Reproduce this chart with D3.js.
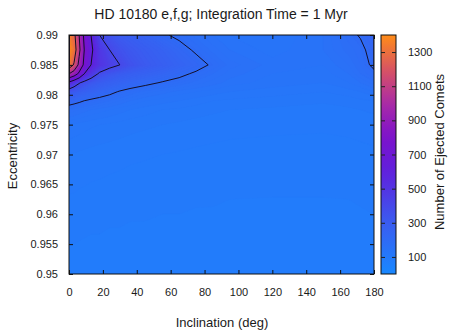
<!DOCTYPE html>
<html>
<head>
<meta charset="utf-8">
<script src="https://cdn.jsdelivr.net/npm/d3@7"></script>
<style>
  html, body { margin: 0; padding: 0; background: #ffffff; }
  svg { display: block; }
  text { font-family: "Liberation Sans", Arial, Helvetica, sans-serif; fill: #1a1a1a; }
</style>
</head>
<body>
<svg id="chart" width="456" height="330"></svg>
<script>
// ---------------- DATA ----------------
const title = "HD 10180 e,f,g; Integration Time = 1 Myr";
const xLabel = "Inclination (deg)";
const yLabel = "Eccentricity";
const cLabel = "Number of Ejected Comets";

// grid columns (inclination, deg)
const inclinations = [0, 3, 6, 9, 13, 18, 24, 30, 36, 45, 55, 65, 75, 85, 95, 120, 150, 165, 172, 180];
// grid rows (eccentricity), top to bottom
const eccentricities = [0.99, 0.9875, 0.985, 0.9835, 0.982, 0.9805, 0.979, 0.9775, 0.975, 0.97, 0.96, 0.95];

// number of ejected comets, one array per eccentricity row
const ejected_e09900 = [1350, 1250, 1000, 760, 600, 400, 340, 300, 280, 250, 210, 185, 165, 150, 140, 130, 150, 185, 205, 240];
const ejected_e09875 = [1400, 1300, 1040, 800, 630, 480, 400, 350, 320, 290, 260, 225, 190, 165, 150, 135, 150, 175, 185, 225];
const ejected_e09850 = [1330, 1180, 950, 760, 600, 500, 440, 400, 350, 310, 280, 250, 225, 190, 165, 145, 140, 160, 180, 210];
const ejected_e09835 = [1000, 900, 760, 600, 480, 380, 330, 300, 280, 260, 240, 215, 190, 170, 155, 140, 135, 150, 170, 190];
const ejected_e09820 = [560, 480, 410, 360, 320, 290, 270, 250, 235, 215, 195, 180, 165, 155, 145, 135, 130, 140, 150, 165];
const ejected_e09805 = [330, 300, 280, 265, 250, 235, 215, 195, 180, 165, 155, 145, 140, 135, 130, 125, 120, 125, 130, 140];
const ejected_e09790 = [230, 220, 210, 200, 190, 180, 170, 160, 150, 140, 135, 130, 125, 120, 118, 115, 112, 115, 118, 120];
const ejected_e09775 = [170, 165, 160, 155, 150, 145, 140, 135, 130, 125, 120, 118, 115, 112, 110, 108, 105, 108, 110, 112];
const ejected_e09750 = [130, 128, 126, 124, 122, 120, 118, 116, 114, 112, 110, 108, 106, 105, 104, 103, 102, 103, 104, 105];
const ejected_e09700 = [110, 109, 108, 107, 106, 105, 104, 103, 102, 101, 100, 99, 98, 97, 96, 95, 95, 96, 97, 98];
const ejected_e09600 = [95, 95, 94, 94, 93, 93, 92, 92, 91, 91, 90, 90, 89, 89, 88, 88, 88, 88, 89, 90];
const ejected_e09500 = [85, 85, 85, 84, 84, 84, 83, 83, 83, 82, 82, 82, 81, 81, 81, 80, 80, 80, 80, 80];

const contourLevels = [200, 400, 600, 800, 1000, 1200];
const xTicks = [0, 20, 40, 60, 80, 100, 120, 140, 160, 180];
const yTicks = [0.95, 0.955, 0.96, 0.965, 0.97, 0.975, 0.98, 0.985, 0.99];
const cTicks = [100, 300, 500, 700, 900, 1100, 1300];
const cDomain = [0, 1400];

// palette (value -> colour)
const paletteValues = [0, 300, 600, 800, 1000, 1200, 1400];
const paletteColors = ["#1888ff", "#3a5cf0", "#6020dc", "#7c12cc", "#aa2aa6", "#d85462", "#ff8c18"];

// ---------------- LAYOUT ----------------
const plot = { left: 69, right: 374, top: 35, bottom: 274 };
const cbar = { left: 381, right: 396 };

const rows = [ejected_e09900, ejected_e09875, ejected_e09850, ejected_e09835, ejected_e09820, ejected_e09805,
              ejected_e09790, ejected_e09775, ejected_e09750, ejected_e09700, ejected_e09600, ejected_e09500];
const nx = inclinations.length, ny = eccentricities.length;
const grid = [].concat(...rows);

const x = d3.scaleLinear().domain([0, 180]).range([plot.left, plot.right]);
const y = d3.scaleLinear().domain([0.95, 0.99]).range([plot.bottom, plot.top]);
const color = d3.scaleLinear().domain(paletteValues).range(paletteColors).interpolate(d3.interpolateRgb).clamp(true);

// grid-index space -> data space (cell centres at i + 0.5)
const gx = d3.scaleLinear().domain(inclinations.map((d, i) => i + 0.5)).range(inclinations).clamp(true);
const gy = d3.scaleLinear().domain(eccentricities.map((d, i) => i + 0.5)).range(eccentricities).clamp(true);

const proj = d3.geoTransform({
  point: function(px, py) { this.stream.point(x(gx(px)), y(gy(py))); }
});
const path = d3.geoPath(proj);

const svg = d3.select("#chart");
const defs = svg.append("defs");
defs.append("clipPath").attr("id", "plotclip")
  .append("rect").attr("x", plot.left).attr("y", plot.top)
  .attr("width", plot.right - plot.left).attr("height", plot.bottom - plot.top);

// ---------- filled map ----------
const fillStep = 10;
const fillThresholds = d3.range(cDomain[0], cDomain[1] + fillStep, fillStep);
const filled = d3.contours().size([nx, ny]).thresholds(fillThresholds)(grid);

const gMap = svg.append("g").attr("clip-path", "url(#plotclip)");
gMap.append("rect").attr("x", plot.left).attr("y", plot.top)
  .attr("width", plot.right - plot.left).attr("height", plot.bottom - plot.top)
  .attr("fill", color(d3.min(grid)));
gMap.selectAll("path.band").data(filled).join("path")
  .attr("class", "band")
  .attr("d", path)
  .attr("fill", d => color(d.value + fillStep / 2))
  .attr("stroke", d => color(d.value + fillStep / 2))
  .attr("stroke-width", 0.6);

// ---------- contour lines ----------
const lines = d3.contours().size([nx, ny]).thresholds(contourLevels)(grid);
gMap.selectAll("path.cline").data(lines).join("path")
  .attr("class", "cline")
  .attr("d", path)
  .attr("fill", "none")
  .attr("stroke", "#14102a")
  .attr("stroke-width", 1);

// ---------- axes ----------
const axFont = 11;
const gx1 = svg.append("g").attr("transform", `translate(0,${plot.bottom})`)
  .call(d3.axisBottom(x).tickValues(xTicks).tickFormat(d3.format("d")).tickSize(-4).tickPadding(14));
const gx2 = svg.append("g").attr("transform", `translate(0,${plot.top})`)
  .call(d3.axisTop(x).tickValues(xTicks).tickSize(-4).tickFormat(""));
const gy1 = svg.append("g").attr("transform", `translate(${plot.left},0)`)
  .call(d3.axisLeft(y).tickValues(yTicks).tickFormat(d => String(+d.toFixed(3))).tickSize(-4).tickPadding(11));
const gy2 = svg.append("g").attr("transform", `translate(${plot.right},0)`)
  .call(d3.axisRight(y).tickValues(yTicks).tickSize(-4).tickFormat(""));
[gx1, gx2, gy1, gy2].forEach(g => {
  g.select(".domain").remove();
  g.selectAll(".tick line").attr("stroke", "#111").attr("stroke-width", 1);
  g.selectAll(".tick text").attr("font-size", axFont).attr("fill", "#1a1a1a")
   .attr("font-family", "Liberation Sans, Arial, sans-serif");
});

// frame
svg.append("rect").attr("x", plot.left).attr("y", plot.top)
  .attr("width", plot.right - plot.left).attr("height", plot.bottom - plot.top)
  .attr("fill", "none").attr("stroke", "#111").attr("stroke-width", 1);

// ---------- colour bar ----------
const cy = d3.scaleLinear().domain(cDomain).range([plot.bottom, plot.top]);
const grad = defs.append("linearGradient").attr("id", "cbgrad")
  .attr("x1", 0).attr("y1", 1).attr("x2", 0).attr("y2", 0);
d3.range(0, 1.0001, 0.05).forEach(t => {
  grad.append("stop").attr("offset", t).attr("stop-color", color(cDomain[0] + t * (cDomain[1] - cDomain[0])));
});
svg.append("rect").attr("x", cbar.left).attr("y", plot.top)
  .attr("width", cbar.right - cbar.left).attr("height", plot.bottom - plot.top)
  .attr("fill", "url(#cbgrad)").attr("stroke", "#111").attr("stroke-width", 1);
const gc1 = svg.append("g").attr("transform", `translate(${cbar.right},0)`)
  .call(d3.axisRight(cy).tickValues(cTicks).tickFormat(d3.format("d")).tickSize(-4).tickPadding(12));
const gc2 = svg.append("g").attr("transform", `translate(${cbar.left},0)`)
  .call(d3.axisLeft(cy).tickValues(cTicks).tickSize(-4).tickFormat(""));
[gc1, gc2].forEach(g => {
  g.select(".domain").remove();
  g.selectAll(".tick line").attr("stroke", "#222").attr("stroke-width", 1);
  g.selectAll(".tick text").attr("font-size", axFont).attr("fill", "#1a1a1a")
   .attr("font-family", "Liberation Sans, Arial, sans-serif");
});

// ---------- titles ----------
svg.append("text").attr("x", 221).attr("y", 19).attr("text-anchor", "middle")
  .attr("font-size", 14).text(title);
svg.append("text").attr("x", 222).attr("y", 327).attr("text-anchor", "middle")
  .attr("font-size", 13).text(xLabel);
svg.append("text").attr("transform", "translate(17,156) rotate(-90)").attr("text-anchor", "middle")
  .attr("font-size", 13).text(yLabel);
svg.append("text").attr("transform", "translate(444,152) rotate(-90)").attr("text-anchor", "middle")
  .attr("font-size", 13).text(cLabel);
</script>
</body>
</html>
